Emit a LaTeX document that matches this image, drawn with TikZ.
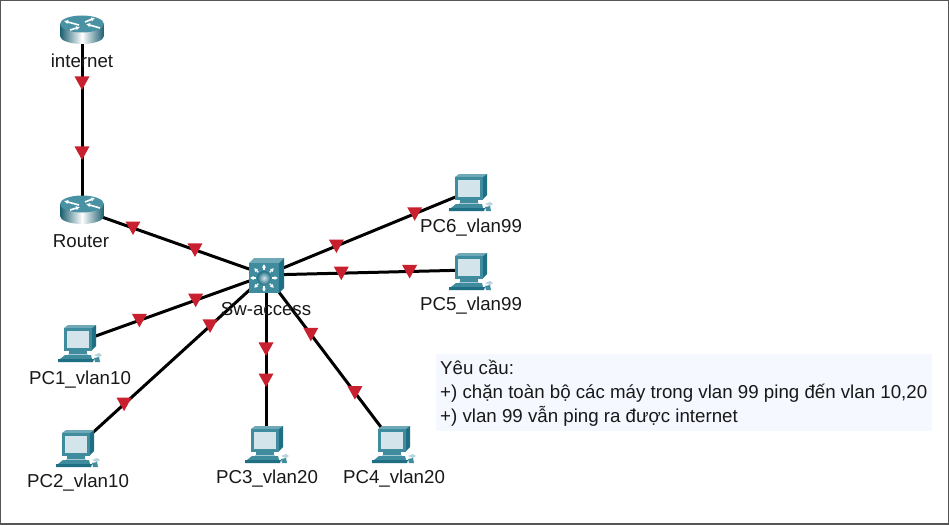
\documentclass[tikz,border=0pt]{standalone}
\usepackage{fontspec}
\setmainfont{Liberation Sans}
\usetikzlibrary{arrows.meta,calc}
\definecolor{teal1}{HTML}{3F8C9F}
\definecolor{teal2}{HTML}{1F6F84}
\definecolor{teal3}{HTML}{6FA8B7}
\definecolor{screen}{HTML}{D3E4EB}
\definecolor{panel}{HTML}{F6F8FF}
\definecolor{redmk}{HTML}{C8202F}
\definecolor{frame}{HTML}{555555}
\tikzset{
  x=1pt,y=-1pt,
  link/.style={black,line width=3pt},
  lbl/.style={font=\fontsize{18.7}{20}\selectfont,inner sep=0pt,text=black!90},
  ptr/.style={white,line width=1.6pt,-{Latex[length=4pt,width=4.4pt]}},
  redmark/.pic={\fill[redmk] (-7.5,-6.5) -- (7.5,-6.5) -- (0,7) -- cycle;},
  routericon/.pic={
    \path[left color=teal2!85!black,right color=teal2!85!black,middle color=white]
      (-22,-6) -- (-22,6) arc[start angle=180,end angle=360,x radius=22pt,y radius=8pt] -- (22,-6) -- cycle;
    \fill[teal1!80!teal3] (0,-6) ellipse[x radius=22pt,y radius=8.5pt];
    \draw[ptr] (-3,-5) -- (-18,-9);
    \draw[ptr] (3,-8) -- (13,-12);
    \draw[ptr] (-12,0) -- (-2,-3);
    \draw[ptr] (18,-2) -- (4,-6);
  },
  switchicon/.pic={
    \fill[teal3] (-15,-15) -- (-10,-20) -- (20,-20) -- (15,-15) -- cycle;
    \fill[teal2] (15,-15) -- (20,-20) -- (20,10) -- (15,15) -- cycle;
    \fill[teal1] (-15,-15) rectangle (15,15);
    \foreach \a in {0,45,...,315}{
      \draw[white,line width=1.4pt,-{Latex[length=3.5pt,width=4.2pt]}] ($(0,0)+(\a:8)$) -- ($(0,0)+(\a:14)$);
    }
    \shade[inner color=screen,outer color=teal2] (0,0) circle[radius=7pt];
  },
  pcicon/.pic={
    \fill[teal2] (13,-17) -- (17,-17) -- (17,4) -- (13,8) -- cycle;
    \fill[teal3] (-15,-14) -- (-11,-17) -- (17,-17) -- (13,-14) -- cycle;
    \fill[teal1] (-15,-14) rectangle (13,9);
    \fill[screen] (-12,-11) rectangle (10,6);
    \fill[teal1] (-10,9) rectangle (8,12);
    \fill[screen!70!teal1] (-11,12) rectangle (9,13);
    \fill[teal1] (-14,13) -- (12,13) -- (13,17) -- (-19,17) -- cycle;
    \fill[teal2] (-21,17) -- (15,17) -- (14,20) -- (-21,20) -- cycle;
    \fill[teal3!50!white] (15,13) -- (20,11) -- (23,13) -- (20,15) -- cycle;
    \fill[teal1] (15,16) -- (20,15) -- (21,20) -- (16,20) -- cycle;
  },
}
\begin{document}
\begin{tikzpicture}
\useasboundingbox (0,0) rectangle (949,524);
\fill[white] (0,0) rectangle (949,524);
\node[fill=panel,anchor=north west,minimum width=496pt,minimum height=77pt,inner sep=0pt] (panel) at (436,354) {};
\coordinate (inet) at (82,30);
\coordinate (rt) at (82,210);
\coordinate (sw) at (266,275);
\coordinate (pc1) at (79,342);
\coordinate (pc2) at (77,447);
\coordinate (pc3) at (266,443);
\coordinate (pc4) at (393,443);
\coordinate (pc5) at (470,270);
\coordinate (pc6) at (470,191);
\draw[link] (inet) -- (rt);
\draw[link] (rt) -- (sw);
\draw[link] (sw) -- (pc6);
\draw[link] (sw) -- (pc5);
\draw[link] (sw) -- (pc1);
\draw[link] (sw) -- (pc2);
\draw[link] (sw) -- (pc3);
\draw[link] (sw) -- (pc4);
\path (inet) -- (rt) pic[pos=.294]{redmark} pic[pos=.683]{redmark};
\path (rt) -- (sw) pic[pos=.277]{redmark} pic[pos=.614]{redmark};
\path (sw) -- (pc6) pic[pos=.345]{redmark} pic[pos=.729]{redmark};
\path (sw) -- (pc5) pic[pos=.369]{redmark} pic[pos=.704]{redmark};
\path (sw) -- (pc1) pic[pos=.376]{redmark} pic[pos=.677]{redmark};
\path (sw) -- (pc2) pic[pos=.296]{redmark} pic[pos=.751]{redmark};
\path (sw) -- (pc3) pic[pos=.44]{redmark} pic[pos=.625]{redmark};
\path (sw) -- (pc4) pic[pos=.353]{redmark} pic[pos=.70]{redmark};
\pic at (inet) {routericon};
\pic at (rt) {routericon};
\pic at (264,278) {switchicon};
\foreach \p in {pc1,pc2,pc3,pc4,pc5,pc6}{\pic at (\p) {pcicon};}
\node[lbl] (l0) at (82,61) {internet};
\node[lbl] (l1) at (81,241) {Router};
\node[lbl] (l2) at (266,309) {Sw-access};
\node[lbl] (l3) at (80,379.5) {PC1\_vlan10};
\node[lbl] (l4) at (78,482.5) {PC2\_vlan10};
\node[lbl] (l5) at (267,478.5) {PC3\_vlan20};
\node[lbl] (l6) at (394,478.5) {PC4\_vlan20};
\node[lbl] (l7) at (471,305.5) {PC5\_vlan99};
\node[lbl] (l8) at (471,227.5) {PC6\_vlan99};
\node[lbl,anchor=west,align=left,font=\fontsize{18.7}{24}\selectfont] (req) at (440,393)
 {Yêu cầu:\\+) chặn toàn bộ các máy trong vlan 99 ping đến vlan 10,20\\+) vlan 99 vẫn ping ra được internet};
\draw[frame,line width=1.5pt] (0,0) rectangle (949,524);
\end{tikzpicture}
\end{document}
